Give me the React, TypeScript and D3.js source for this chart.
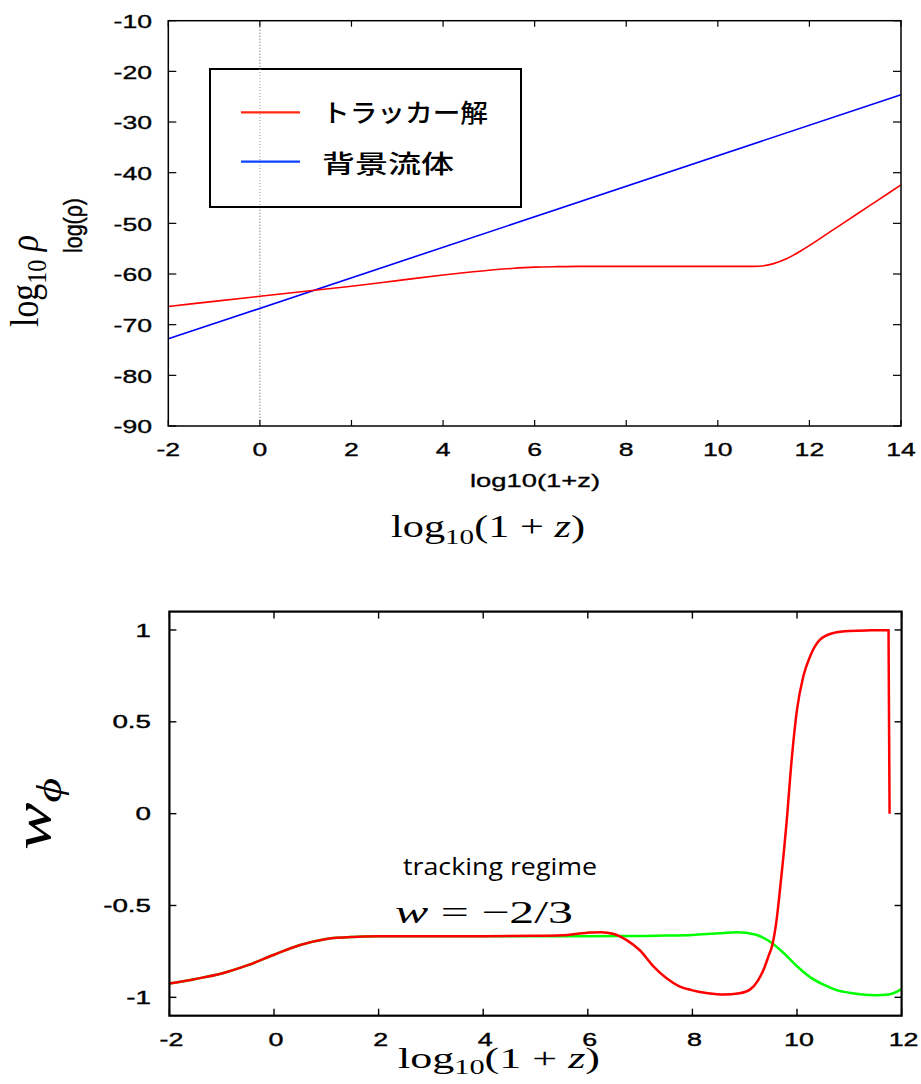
import React from 'react';
import * as d3 from 'd3';

const width = 921;
const height = 1084;

// top panel: log10 rho against log10(1+z)
const rhoTickX = [-2, 0, 2, 4, 6, 8, 10, 12, 14];
const rhoTickY = [-10, -20, -30, -40, -50, -60, -70, -80, -90];
const trackerZ = [-2, -1, 0, 1, 2, 3, 4, 4.5, 5, 5.5, 6, 6.5, 7, 8, 9, 10, 10.8, 11.2, 11.5, 11.8, 12.5, 13, 13.5, 14];
const trackerRho = [-66.4, -65.4, -64.4, -63.4, -62.4, -61.3, -60.2, -59.7, -59.25, -58.9, -58.65, -58.55, -58.5, -58.5, -58.5, -58.5, -58.5, -58.0, -57.0, -55.5, -51.4, -48.4, -45.4, -42.4];
const fluidZ = [-2, 14];
const fluidRho = [-72.8, -24.6];
const legendLabels = ['トラッカー解', '背景流体'];

// bottom panel: w_phi against log10(1+z)
const wTickX = [-2, 0, 2, 4, 6, 8, 10, 12];
const wTickY = [1, 0.5, 0, -0.5, -1];
const greenZ = [-2, -1.5, -1, -0.5, 0, 0.5, 1, 1.5, 2, 3, 4, 5, 6, 7, 7.5, 8, 8.5, 8.85, 9.2, 9.5, 9.75, 10, 10.25, 10.5, 10.75, 11, 11.25, 11.5, 11.75, 12];
const greenW = [-0.925, -0.9, -0.87, -0.825, -0.768, -0.715, -0.682, -0.671, -0.668, -0.667, -0.667, -0.667, -0.667, -0.666, -0.664, -0.66, -0.651, -0.646, -0.658, -0.7, -0.76, -0.831, -0.89, -0.93, -0.96, -0.975, -0.985, -0.989, -0.985, -0.955];
const redZ = [-2, -1.5, -1, -0.5, 0, 0.5, 1, 1.5, 2, 3, 4, 5, 5.5, 6, 6.25, 6.5, 6.75, 7, 7.25, 7.5, 7.75, 8, 8.3, 8.6, 8.9, 9.1, 9.25, 9.36, 9.45, 9.53, 9.6, 9.68, 9.8, 9.9, 10, 10.12, 10.25, 10.44, 10.7, 11, 11.4, 11.75, 11.77];
const redW = [-0.925, -0.9, -0.87, -0.825, -0.768, -0.715, -0.682, -0.671, -0.668, -0.667, -0.667, -0.665, -0.662, -0.648, -0.645, -0.655, -0.69, -0.745, -0.83, -0.895, -0.94, -0.962, -0.978, -0.985, -0.978, -0.958, -0.91, -0.85, -0.78, -0.713, -0.6, -0.4, -0.05, 0.3, 0.566, 0.747, 0.856, 0.947, 0.984, 0.995, 0.998, 0.999, 0.0];

const tickFont = '"Liberation Sans", Arial, sans-serif';
const serif = '"Liberation Serif", "DejaVu Serif", serif';

const zip = (xs: number[], ys: number[]) => xs.map((x, i) => [x, ys[i]] as [number, number]);

const App = () => {
  // top
  const x1 = d3.scaleLinear().domain([-2, 14]).range([168.3, 901]);
  const y1 = d3.scaleLinear().domain([-90, -10]).range([426, 20.7]);
  const line1 = d3.line<[number, number]>()
    .x((d) => x1(d[0]))
    .y((d) => y1(d[1]))
    .curve(d3.curveMonotoneX);

  // bottom
  const x2 = d3.scaleLinear().domain([-2, 12]).range([169.4, 901.6]);
  const y2 = d3.scaleLinear().domain([-1.1, 1.1]).range([1015.7, 611.6]);
  const line2 = d3.line<[number, number]>()
    .x((d) => x2(d[0]))
    .y((d) => y2(d[1]))
    .curve(d3.curveMonotoneX);

  const [l1, r1] = x1.range();
  const [b1, t1] = y1.range();
  const [l2, r2] = x2.range();
  const [b2, t2] = y2.range();

  return (
    <svg
      width={width}
      height={height}
      style={{ position: 'absolute', left: 0, top: 0, background: '#fff' }}
    >
      <rect width={width} height={height} fill="#fff" />

      {/* ---------- top panel ---------- */}
      <line x1={x1(0)} x2={x1(0)} y1={t1} y2={b1} stroke="#555" strokeWidth={1} strokeDasharray="1,2" />
      {rhoTickY.map((v) => (
        <g key={'ty' + v}>
          <line x1={l1} x2={l1 + 8} y1={y1(v)} y2={y1(v)} stroke="#000" strokeWidth={1.2} />
          <line x1={r1} x2={r1 - 8} y1={y1(v)} y2={y1(v)} stroke="#000" strokeWidth={1.2} />
          <text
            transform={`translate(152,${y1(v) + 7.4}) scale(1.4,1)`}
            textAnchor="end"
            fontFamily={tickFont}
            fontSize={19}
            stroke="#000"
            strokeWidth={0.35}
          >
            {v}
          </text>
        </g>
      ))}
      {rhoTickX.map((v) => (
        <g key={'tx' + v}>
          <line x1={x1(v)} x2={x1(v)} y1={b1} y2={b1 - 6} stroke="#000" strokeWidth={1.2} />
          <line x1={x1(v)} x2={x1(v)} y1={t1} y2={t1 + 6} stroke="#000" strokeWidth={1.2} />
          <text
            transform={`translate(${x1(v)},456) scale(1.4,1)`}
            textAnchor="middle"
            fontFamily={tickFont}
            fontSize={19}
            stroke="#000"
            strokeWidth={0.35}
          >
            {v}
          </text>
        </g>
      ))}
      <path d={line1(zip(fluidZ, fluidRho)) ?? ''} fill="none" stroke="#0000ff" strokeWidth={1.6} />
      <path d={line1(zip(trackerZ, trackerRho)) ?? ''} fill="none" stroke="#ff0000" strokeWidth={1.6} />
      <rect x={l1} y={t1} width={r1 - l1} height={b1 - t1} fill="none" stroke="#000" strokeWidth={1.5} />

      {/* legend */}
      <rect x={210} y={69} width={311} height={138} fill="#fff" stroke="#000" strokeWidth={2} />
      <line x1={x1(0)} x2={x1(0)} y1={69} y2={207} stroke="#999" strokeWidth={1} strokeDasharray="1,2" />
      <line x1={241} x2={300} y1={112.3} y2={112.3} stroke="#ff2a10" strokeWidth={2.2} />
      <line x1={241} x2={300} y1={161.7} y2={161.7} stroke="#1040ff" strokeWidth={2.2} />
      {legendLabels.map((t, i) => (
        <text
          key={t}
          x={322}
          y={i === 0 ? 122 : 173}
          fontFamily='"Noto Sans CJK JP", sans-serif'
          fontSize={25}
          fontWeight={500}
          textLength={i === 0 ? 166 : 132}
          lengthAdjust="spacingAndGlyphs"
        >
          {t}
        </text>
      ))}

      {/* top axis labels */}
      <text
        x={470}
        y={487}
        fontFamily={tickFont}
        fontSize={18.5}
        stroke="#000"
        strokeWidth={0.3}
        textLength={130}
        lengthAdjust="spacingAndGlyphs"
      >
        log10(1+z)
      </text>
      <text x={391} y={537} fontFamily={serif} fontSize={32} textLength={194} lengthAdjust="spacingAndGlyphs">
        log<tspan fontSize={22} dy={7}>10</tspan>
        <tspan dy={-7}>(1 + </tspan>
        <tspan fontStyle="italic">z</tspan>)
      </text>
      <text
        transform="translate(38,327) scale(1.4,1) rotate(-90)"
        fontFamily={serif}
        fontSize={28}
        textLength={92}
        lengthAdjust="spacingAndGlyphs"
      >
        log<tspan fontSize={20} dy={6}>10</tspan>
        <tspan dy={-6} fontStyle="italic"> ρ</tspan>
      </text>
      <text
        transform="translate(82,253) scale(1.45,1) rotate(-90)"
        fontFamily={tickFont}
        fontSize={17.5}
        stroke="#000"
        strokeWidth={0.3}
        textLength={55}
        lengthAdjust="spacingAndGlyphs"
      >
        log(ρ)
      </text>

      {/* ---------- bottom panel ---------- */}
      {wTickY.map((v) => (
        <g key={'by' + v}>
          <line x1={l2} x2={l2 + 7} y1={y2(v)} y2={y2(v)} stroke="#000" strokeWidth={1.4} />
          <line x1={r2} x2={r2 - 7} y1={y2(v)} y2={y2(v)} stroke="#000" strokeWidth={1.4} />
          <text
            transform={`translate(151,${y2(v) + 6.6}) scale(1.5,1)`}
            textAnchor="end"
            fontFamily={tickFont}
            fontSize={18.5}
            stroke="#000"
            strokeWidth={0.4}
          >
            {v}
          </text>
        </g>
      ))}
      {wTickX.map((v) => (
        <g key={'bx' + v}>
          <line x1={x2(v)} x2={x2(v)} y1={b2} y2={b2 - 7} stroke="#000" strokeWidth={1.4} />
          <line x1={x2(v)} x2={x2(v)} y1={t2} y2={t2 + 7} stroke="#000" strokeWidth={1.4} />
          <text
            transform={`translate(${x2(v) + 2},1046) scale(1.45,1)`}
            textAnchor="middle"
            fontFamily={tickFont}
            fontSize={18.5}
            stroke="#000"
            strokeWidth={0.4}
          >
            {v}
          </text>
        </g>
      ))}
      <path d={line2(zip(greenZ, greenW)) ?? ''} fill="none" stroke="#00ff00" strokeWidth={2.5} />
      <path d={line2(zip(redZ, redW)) ?? ''} fill="none" stroke="#ff0000" strokeWidth={2.5} />
      <rect x={l2} y={t2} width={r2 - l2} height={b2 - t2} fill="none" stroke="#000" strokeWidth={2.2} />

      <text
        x={403}
        y={875}
        fontFamily='"Open Sans", "Noto Sans", sans-serif'
        fontSize={23}
        textLength={194}
        lengthAdjust="spacingAndGlyphs"
      >
        tracking regime
      </text>
      <text x={395} y={923} fontFamily={serif} fontSize={32} textLength={178} lengthAdjust="spacingAndGlyphs">
        <tspan fontStyle="italic">w</tspan> = −2/3
      </text>

      <text x={398} y={1068} fontFamily={serif} fontSize={29} textLength={202} lengthAdjust="spacingAndGlyphs">
        log<tspan fontSize={20} dy={6}>10</tspan>
        <tspan dy={-6}>(1 + </tspan>
        <tspan fontStyle="italic">z</tspan>)
      </text>
      <text
        transform="translate(50,850) scale(1.25,1) rotate(-90)"
        fontFamily={serif}
        fontSize={42}
        textLength={72}
        lengthAdjust="spacingAndGlyphs"
      >
        <tspan fontStyle="italic">w</tspan>
        <tspan fontSize={28} dy={9} fontStyle="italic">ϕ</tspan>
      </text>
    </svg>
  );
};

export default App;
